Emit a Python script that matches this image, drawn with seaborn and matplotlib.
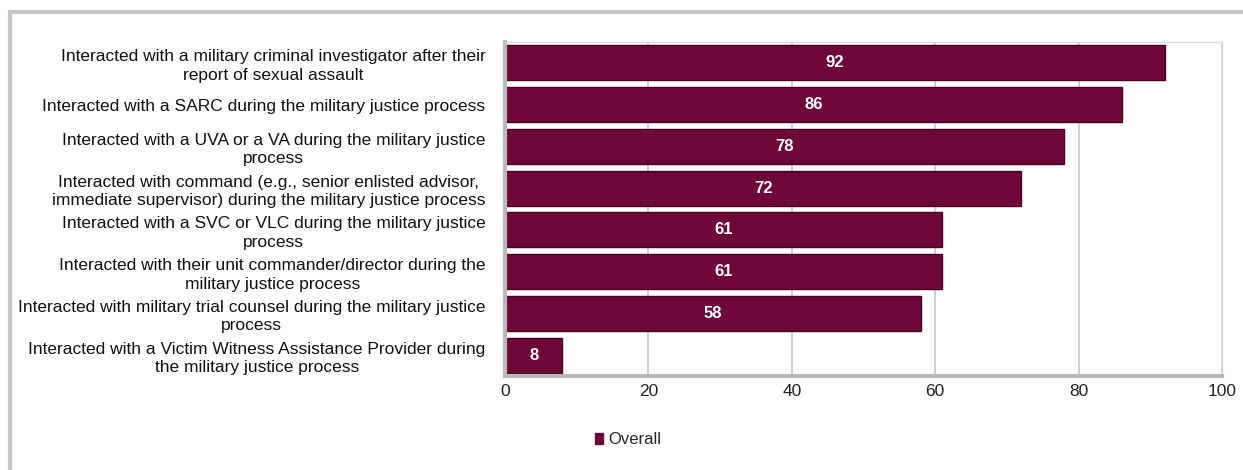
import matplotlib
matplotlib.use("Agg")
import matplotlib.pyplot as plt
import seaborn as sns
import pandas as pd
from matplotlib.patches import Rectangle, Patch

# categories and values
categories = [
    "Interacted with a military criminal investigator after their\nreport of sexual assault",
    "Interacted with a SARC during the military justice process",
    "Interacted with a UVA or a VA during the military justice\nprocess",
    "Interacted with command (e.g., senior enlisted advisor,\nimmediate supervisor) during the military justice process",
    "Interacted with a SVC or VLC during the military justice\nprocess",
    "Interacted with their unit commander/director during the\nmilitary justice process",
    "Interacted with military trial counsel during the military justice\nprocess",
    "Interacted with a Victim Witness Assistance Provider during\nthe military justice process",
]
overall = [92, 86, 78, 72, 61, 61, 58, 8]
x_ticks = [0, 20, 40, 60, 80, 100]
series_name = "Overall"

BAR = "#6e0638"
GRID = "#c8c8c8"


def main():
    sns.set_style("white")
    plt.rcParams["font.family"] = ["Liberation Sans", "DejaVu Sans"]

    df = pd.DataFrame({"item": categories, "pct": overall})

    fig = plt.figure(figsize=(12.43, 4.70), dpi=100)
    ax = fig.add_axes([505 / 1243, 1 - 376 / 470, (1222 - 505) / 1243, (376 - 42) / 470])

    sns.barplot(data=df, y="item", x="pct", color=BAR, saturation=1,
                width=0.84, ax=ax, edgecolor="#4a0025", linewidth=1)

    ax.set_xlim(0, 100)
    ax.set_xticks(x_ticks)
    ax.set_xlabel("")
    ax.set_ylabel("")
    ax.set_yticks(range(len(categories)))
    ax.set_yticklabels(categories, multialignment="center", linespacing=1.3,
                       fontsize=12.5, color="#111111")
    ax.xaxis.grid(True, color=GRID, linewidth=1.2)
    ax.set_axisbelow(True)
    ax.tick_params(axis="x", labelsize=12.5, length=0, pad=6, colors="#222222")
    ax.tick_params(axis="y", length=4, color="#b0b0b0", pad=10)

    for side in ["top", "right"]:
        ax.spines[side].set_color("#d8d8d8")
        ax.spines[side].set_linewidth(1)
    for side in ["left", "bottom"]:
        ax.spines[side].set_color("#b8b8b8")
        ax.spines[side].set_linewidth(3)

    # value labels in the middle of each bar
    for i, v in enumerate(overall):
        ax.text(v / 2, i, str(v), color="white", fontweight="bold",
                fontsize=12, ha="center", va="center")

    # legend
    fig.legend(handles=[Patch(facecolor=BAR, edgecolor=BAR, label=series_name)],
               loc="center", bbox_to_anchor=(628 / 1243, 1 - 440 / 470),
               frameon=False, fontsize=12, handlelength=0.5, handleheight=0.6,
               handletextpad=0.3)

    # outer chart frame
    fig.patches.append(Rectangle((10 / 1243, -0.1), 1.2, 1 - 12 / 470 + 0.1,
                                 transform=fig.transFigure, fill=False,
                                 edgecolor="#c4c4c4", linewidth=3))

    fig.savefig("out.png", dpi=100)


if __name__ == "__main__":
    main()
